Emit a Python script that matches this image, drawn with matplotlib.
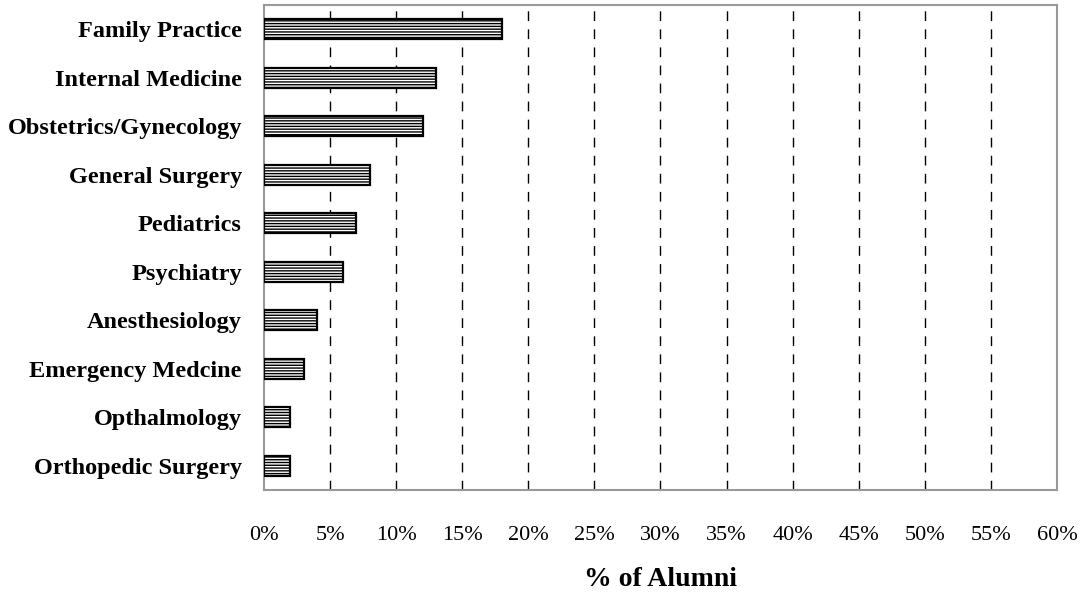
import matplotlib
matplotlib.use("Agg")
import matplotlib.pyplot as plt
import numpy as np

categories = ["Family Practice", "Internal Medicine", "Obstetrics/Gynecology",
              "General Surgery", "Pediatrics", "Psychiatry", "Anesthesiology",
              "Emergency Medcine", "Opthalmology", "Orthopedic Surgery"]
values = [18, 13, 12, 8, 7, 6, 4, 3, 2, 2]
xticks = [0, 5, 10, 15, 20, 25, 30, 35, 40, 45, 50, 55, 60]

plt.rcParams['font.family'] = ['Liberation Serif', 'DejaVu Serif']
plt.rcParams['hatch.linewidth'] = 1.0

fig = plt.figure(figsize=(10.81, 5.92), dpi=100)
ax = fig.add_axes([0.2442, 0.1723, 0.9778 - 0.2442, 0.9916 - 0.1723])

y = np.arange(len(categories))
ax.barh(y, values, height=0.42, color='white', edgecolor='black',
        linewidth=1.6, hatch='------', zorder=3)

ax.set_xlim(0, 60)
ax.set_ylim(9.5, -0.5)
ax.set_xticks(xticks)
ax.set_xticklabels([f"{t}%" for t in xticks], fontsize=16)
ax.set_yticks(y)
ax.set_yticklabels(categories, fontsize=17.5, fontweight='bold')
ax.tick_params(axis='both', length=0)
ax.tick_params(axis='x', pad=26)
ax.tick_params(axis='y', pad=16)

for t in xticks[1:-1]:
    ax.axvline(t, color='black', linestyle=(0, (7, 6)), linewidth=1, zorder=1)

for s in ax.spines.values():
    s.set_color('#999999')
    s.set_linewidth(1.5)

ax.set_xlabel("% of Alumni", fontsize=20, fontweight='bold', labelpad=16)

fig.savefig("out.png", dpi=100)
